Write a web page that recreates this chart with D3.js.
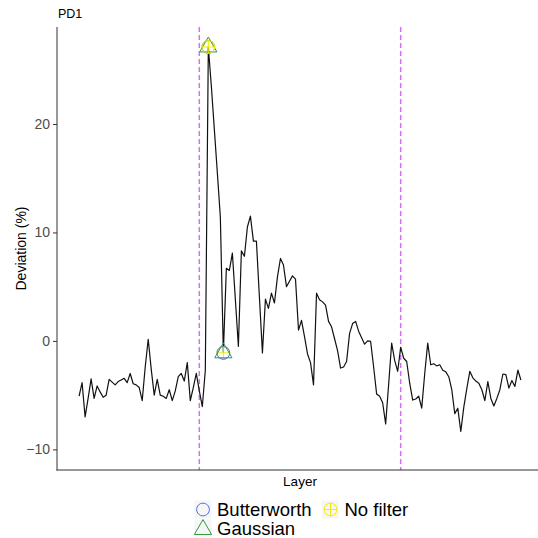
<!DOCTYPE html>
<html>
<head>
<meta charset="utf-8">
<script src="https://cdn.jsdelivr.net/npm/d3@7"></script>
<style>
  html, body { margin: 0; padding: 0; background: #fff; }
  svg { display: block; font-family: "Liberation Sans", Arial, Helvetica, sans-serif; }
</style>
</head>
<body>
<svg id="chart" width="538" height="538"></svg>
<script>
// ---------- data ----------
const chartTitle = "PD1";
const xTitle = "Layer";
const yTitle = "Deviation (%)";
const yTicks = [-10, 0, 10, 20];

// deviation (%) per layer (layers 1..148)
const deviation = [
  -5.1, -3.85, -7.0, -5.3, -3.5, -5.3, -4.15, -4.7, -5.2, -5.0,
  -3.55, -3.8, -4.05, -3.75, -3.6, -3.45, -3.85, -3.0, -3.95, -4.05,
  -4.3, -5.5, -2.4, 0.15, -2.6, -5.0, -3.55, -5.0, -5.1, -5.3,
  -4.5, -5.5, -4.6, -3.3, -3.0, -3.7, -2.0, -5.5, -4.3, -3.0,
  -4.6, -6.05, -2.7, 27.1, 23.5, 19.5, 15.5, 11.4, -1.1, 6.7,
  6.5, 8.1, 3.8, -0.5, 8.3, 7.8, 10.5, 11.5, 9.2, 9.2,
  4.0, -1.1, 3.85, 3.0, 4.4, 3.5, 5.9, 7.6, 7.0, 5.0,
  5.5, 6.0, 5.7, 1.0, 1.9, 0.4, -1.2, -2.0, -4.05, 4.4,
  3.8, 3.6, 3.3, 1.8, 1.3, 0.2, -0.9, -2.5, -2.4, -1.9,
  0.7, 1.6, 1.8, 0.9, 0.3, -0.3, 0.0, -0.05, -2.4, -4.9,
  -5.1, -5.7, -7.65, -4.0, -0.2, -1.8, -2.8, -0.6, -1.6, -1.9,
  -3.9, -5.45, -5.35, -5.1, -6.2, -3.0, -0.2, -2.2, -2.1, -2.3,
  -2.2, -2.7, -2.85, -3.3, -4.5, -6.7, -6.2, -8.35, -6.1, -4.4,
  -2.8, -3.4, -3.7, -3.9, -4.5, -5.5, -3.75, -5.3, -6.0, -5.3,
  -4.5, -3.05, -3.1, -4.35, -3.65, -4.2, -2.7, -3.6
];
const firstLayer = 1;

// vertical reference lines (layer)
const refLayers = [41, 108];

// filter markers
const filters = ["Butterworth", "Gaussian", "No filter"];
const filterColors = ["#4a74ee", "#2f9a3c", "#f2ee00"];
const filterShapes = ["circle", "triangle", "circleplus"];
// marker points: [filter, layer, deviation] (drawing order)
const markerFilter = ["Butterworth", "Gaussian", "No filter", "No filter", "Gaussian", "Butterworth"];
const markerLayer  = [44, 44, 44, 49, 49, 49];
const markerValue  = [27.1, 27.1, 27.1, -1.1, -1.1, -1.1];

// legend order (row-wise, 2 columns)
const legendOrder = ["Butterworth", "No filter", "Gaussian"];

// ---------- layout ----------
const W = 538, H = 538;
const panel = { left: 57, right: 543, top: 27, bottom: 470 };
const yDomain = [-11.9, 28.94];

const svg = d3.select("#chart");
svg.append("rect").attr("width", W).attr("height", H).attr("fill", "#fff");

const points = deviation.map((v, i) => ({ layer: firstLayer + i, value: v }));
const xExt = d3.extent(points, d => d.layer);
const xPad = (xExt[1] - xExt[0]) * 0.05;
const x = d3.scaleLinear().domain([xExt[0] - xPad, xExt[1] + xPad]).range([panel.left, panel.right]);
const y = d3.scaleLinear().domain(yDomain).range([panel.bottom, panel.top]);

// reference dashed lines
svg.append("g").selectAll("line").data(refLayers).join("line")
  .attr("x1", d => x(d)).attr("x2", d => x(d))
  .attr("y1", panel.top).attr("y2", panel.bottom)
  .attr("stroke", "#d36cf7").attr("stroke-width", 1.5)
  .attr("stroke-dasharray", "5,3");

// data line
const line = d3.line().x(d => x(d.layer)).y(d => y(d.value));
svg.append("path").datum(points)
  .attr("d", line)
  .attr("fill", "none").attr("stroke", "#111").attr("stroke-width", 1.2)
  .attr("stroke-linejoin", "round");

// marker drawing
const R = 6.4;
function drawShape(g, shape, color, cx, cy) {
  if (shape === "circle") {
    g.append("circle").attr("cx", cx).attr("cy", cy).attr("r", R)
      .attr("fill", "none").attr("stroke", color).attr("stroke-width", 1);
  } else if (shape === "triangle") {
    const up = 1.5551 * R, down = 0.7776 * R, hw = 1.3468 * R;
    g.append("path")
      .attr("d", `M${cx},${cy - up} L${cx + hw},${cy + down} L${cx - hw},${cy + down} Z`)
      .attr("fill", "none").attr("stroke", color).attr("stroke-width", 1);
  } else {
    g.append("circle").attr("cx", cx).attr("cy", cy).attr("r", R)
      .attr("fill", "none").attr("stroke", color).attr("stroke-width", 1);
    g.append("path")
      .attr("d", `M${cx - R},${cy} H${cx + R} M${cx},${cy - R} V${cy + R}`)
      .attr("fill", "none").attr("stroke", color).attr("stroke-width", 1);
  }
}
const mg = svg.append("g");
markerFilter.forEach((f, i) => {
  const k = filters.indexOf(f);
  drawShape(mg, filterShapes[k], filterColors[k], x(markerLayer[i]), y(markerValue[i]));
});

// axes
const axisColor = "#333";
const yAxis = d3.axisLeft(y).tickValues(yTicks).tickSize(4).tickPadding(3);
const gy = svg.append("g").attr("transform", `translate(${panel.left},0)`).call(yAxis);
gy.select(".domain").remove();
gy.selectAll(".tick line").attr("stroke", axisColor);
gy.selectAll(".tick text").attr("fill", "#4d4d4d").attr("font-size", 14)
  .attr("font-family", "'Liberation Sans', Arial, sans-serif");

svg.append("line").attr("x1", panel.left).attr("x2", panel.left)
  .attr("y1", panel.top).attr("y2", panel.bottom + 0.5)
  .attr("stroke", axisColor).attr("stroke-width", 1);
svg.append("line").attr("x1", panel.left - 0.5).attr("x2", panel.right)
  .attr("y1", panel.bottom).attr("y2", panel.bottom)
  .attr("stroke", axisColor).attr("stroke-width", 1);

// titles
svg.append("text").attr("x", panel.left + 1).attr("y", 18.3)
  .attr("font-size", 12.5).attr("fill", "#000").text(chartTitle);
svg.append("text").attr("x", (panel.left + panel.right) / 2).attr("y", 486)
  .attr("text-anchor", "middle").attr("font-size", 13.5).attr("fill", "#000").text(xTitle);
svg.append("text")
  .attr("transform", `translate(26,${(panel.top + panel.bottom) / 2}) rotate(-90)`)
  .attr("text-anchor", "middle").attr("font-size", 14).attr("fill", "#000").text(yTitle);

// legend
const colX = [203, 330.5];
const rowY = [509.5, 528.5];
const lg = svg.append("g");
legendOrder.forEach((f, i) => {
  const k = filters.indexOf(f);
  const cx = colX[i % 2], cy = rowY[Math.floor(i / 2)];
  lg.append("rect").attr("x", cx - 8.5).attr("y", cy - 9).attr("width", 17).attr("height", 18)
    .attr("fill", "#f6f6f6");
  drawShape(lg, filterShapes[k], filterColors[k], cx, cy + (filterShapes[k] === "triangle" ? 1 : 0));
  lg.append("text").attr("x", cx + 14).attr("y", cy + 6.5)
    .attr("font-size", 18.5).attr("fill", "#000").text(f);
});
</script>
</body>
</html>
